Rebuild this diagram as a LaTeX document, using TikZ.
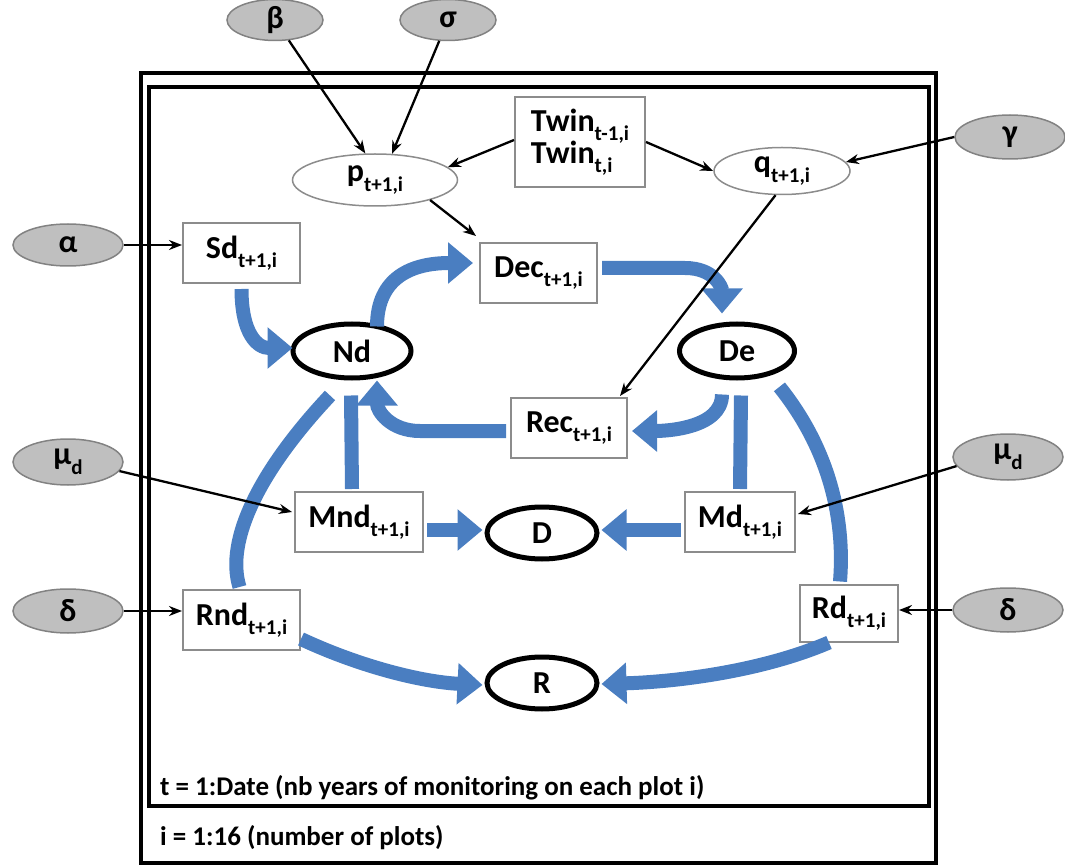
\documentclass[tikz,border=0pt]{standalone}
\usepackage{fontspec}
\setmainfont{Carlito}
\usetikzlibrary{arrows.meta,shapes.geometric,calc}
\definecolor{flowblue}{RGB}{74,126,193}
\definecolor{parfill}{RGB}{191,191,191}
\definecolor{pardraw}{RGB}{130,130,130}
\definecolor{boxdraw}{RGB}{140,140,140}
\newcommand\labfont{\fontsize{32}{35}\selectfont\bfseries}
\newcommand\sbs[1]{\raisebox{-0.3em}{\fontsize{21}{21}\selectfont #1}}
\tikzset{
  param/.style={ellipse, draw=pardraw, fill=parfill, line width=1.5pt, minimum width=110, minimum height=44, inner sep=0pt, font=\labfont},
  varbox/.style={rectangle, draw=boxdraw, fill=white, line width=2pt, minimum height=60, inner sep=2pt, font=\labfont},
  prob/.style={ellipse, draw=boxdraw, fill=white, line width=1.5pt, inner sep=0pt, font=\labfont},
  state/.style={ellipse, draw=black, line width=5pt, fill=white, minimum width=115, minimum height=54, inner sep=0pt, font=\labfont},
  frame/.style={draw=black, line width=4pt},
  flow/.style={draw=flowblue, line width=14pt},
  flowarrow/.style={flow, -{Triangle[width=40pt,length=25pt]}},
  link/.style={draw=black, line width=2.3pt, -{Stealth[length=13pt,width=10pt]}},
  foot/.style={anchor=base west, inner sep=0pt, font=\fontsize{27}{30}\selectfont\bfseries}
}
\begin{document}
\begin{tikzpicture}[x=1pt,y=-1pt]
\useasboundingbox (0,0) rectangle (1065,866);
% frames
\draw[frame] (141,73) rectangle (936,863);
\draw[frame] (149,87) rectangle (929,806);
% parameters
\node[param, minimum width=96, minimum height=41] (beta) at (275,20) {β};
\node[param, minimum width=96, minimum height=41] (sigma) at (448,20) {σ};
\node[param] (gamma) at (1010,137) {γ};
\node[param, minimum height=42] (alpha) at (68,245) {α};
\node[param, minimum height=46] (mul) at (68,462) {μ\sbs{d}};
\node[param, minimum height=46] (mur) at (1008,457) {μ\sbs{d}};
\node[param, minimum height=44] (dl) at (68,611) {δ};
\node[param, minimum height=44] (dr) at (1008,610) {δ};
% variables
\node[varbox, minimum width=130, minimum height=90, align=left] (twin) at (580,142) {Twin\sbs{t-1,i}\\[-3pt]Twin\sbs{t,i}};
\node[prob, minimum width=165, minimum height=52] (p) at (375,180) {p\sbs{t+1,i}};
\node[prob, minimum width=136, minimum height=47] (q) at (782,171) {q\sbs{t+1,i}};
\node[varbox, minimum width=117] (sd) at (241.5,253) {Sd\sbs{t+1,i}};
\node[varbox, minimum width=117] (dec) at (538.5,273) {Dec\sbs{t+1,i}};
\node[varbox, minimum width=116] (rec) at (569,428) {Rec\sbs{t+1,i}};
\node[varbox, minimum width=128] (mnd) at (359,522) {Mnd\sbs{t+1,i}};
\node[varbox, minimum width=110] (md) at (740,522) {Md\sbs{t+1,i}};
\node[varbox, minimum width=117] (rnd) at (241.5,620) {Rnd\sbs{t+1,i}};
\node[varbox, minimum width=98, minimum height=57] (rd) at (849,613) {Rd\sbs{t+1,i}};
% states
\node[state, minimum width=118] (nd) at (352,351) {Nd};
\node[state] (de) at (737,351) {De};
\node[state, minimum width=110, minimum height=52] (dd) at (542,533) {D};
\node[state, minimum width=110, minimum height=52] (rr) at (542,683) {R};
% footer
\node[foot] (tlab) at (160,795) {t = 1:Date (nb years of monitoring on each plot i)};
\node[foot] (ilab) at (160,845) {i = 1:16 (number of plots)};
% blue flows
\draw[flowarrow] ($(sd.south)+(0,5)$) .. controls +(0,45) and +(-35,0) .. ($(nd.west)+(2,-3)$);
\draw[flowarrow] ($(nd.north)+(25,5)$) .. controls +(0,-50) and +(-60,0) .. ($(dec.west)+(-6,-10)$);
\draw[flowarrow] ($(dec.east)+(4,-5)$) -- (685,268) .. controls +(30,0) and +(0,-25) .. ($(de.north)+(-15,-8)$);
\draw[flowarrow] ($(de.south)+(-15,14)$) .. controls +(0,35) and +(30,0) .. ($(rec.east)+(4,3)$);
\draw[flowarrow] ($(rec.west)+(-4,3)$) -- (420,431) .. controls +(-30,0) and +(0,30) .. ($(nd.south)+(25,0)$);
\draw[flow] ($(nd.south)+(-22,15)$) .. controls (260,470) and (225,540) .. ($(rnd.north)+(-2,-2)$);
\draw[flow] ($(nd.south)+(-1,15)$) -- ($(mnd.north)+(-7,-2)$);
\draw[flowarrow] ($(mnd.east)+(3,8)$) -- ($(dd.west)+(-2,-3)$);
\draw[flow] ($(de.south)+(4,15)$) -- ($(md.north)+(0,-2)$);
\draw[flowarrow] ($(md.west)+(-3,8)$) -- ($(dd.east)+(2,-3)$);
\draw[flow] ($(de.south east)+(0,15)$) .. controls (830,450) and (845,520) .. ($(rd.north)+(-9,-2)$);
\draw[flowarrow] ($(rnd.south east)+(0,-12)$) .. controls +(60,28) and +(-60,-3) .. ($(rr.west)+(-2,2)$);
\draw[flowarrow] ($(rd.south)+(-20,0)$) .. controls +(-70,30) and +(70,-2) .. ($(rr.east)+(2,1)$);
% black links
\draw[link] (beta) -- (p.110);
\draw[link] (sigma) -- (p.57);
\draw[link] ($(twin.west)+(0,-2)$) -- (p.10);
\draw[link] ($(twin.east)+(0,0)$) -- (q.west);
\draw[link] (gamma.west) -- (q.8);
\draw[link] (p.-20) -- ($(dec.north west)+(-3,-6)$);
\draw[link] (q.-105) -- ($(rec.north east)+(-8,-1)$);
\draw[link] (alpha.east) -- (alpha.east -| sd.west);
\draw[link] (mul.-10) -- ($(mnd.west)+(-2,-10)$);
\draw[link] (mur.190) -- ($(md.east)+(2,-8)$);
\draw[link] (dl.east) -- (dl.east -| rnd.west);
\draw[link] (dr.west) -- (dr.west -| rd.east);
\end{tikzpicture}
\end{document}
